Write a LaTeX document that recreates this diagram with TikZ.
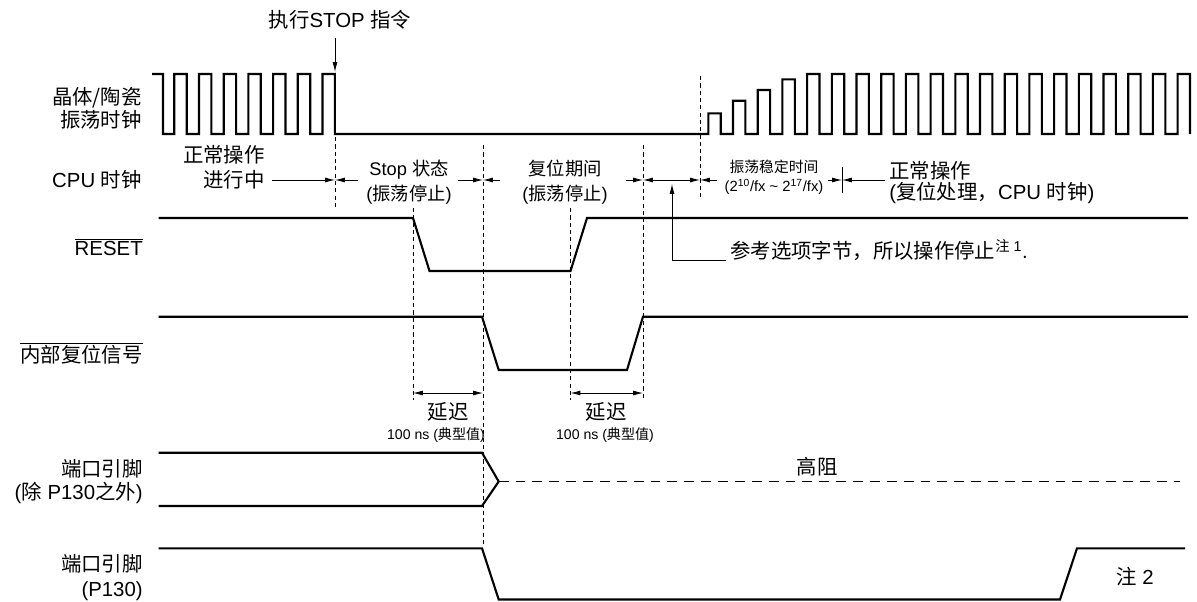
\documentclass[tikz,border=0pt]{standalone}
\usepackage{fontspec}
\setmainfont{Liberation Sans}
\newfontfamily\zh{Noto Sans CJK SC}
\usetikzlibrary{arrows.meta}

\begin{document}
\begin{tikzpicture}[
x=0.025cm, y=-0.025cm,
every node/.style={
inner sep=0pt,
font=\fontsize{14.5}{16.3}\selectfont
},
lbl/.style={anchor=east, align=right},
mid/.style={font=\fontsize{13}{17.7}\selectfont, align=center},
tiny/.style={font=\fontsize{10.5}{13.5}\selectfont, align=center},
sig/.style={line width=1.5pt},
guide/.style={line width=0.6pt, dash pattern=on 3pt off 2.2pt},
dim/.style={line width=0.6pt, >={Latex[length=7pt,width=3.5pt]}},
hiz/.style={line width=1.4pt, dash pattern=on 7pt off 5pt}
]

\useasboundingbox (0,0) rectangle (1197,601);

% signal names
\node[lbl] (clk) at (142,108.5)
{{\zh 晶体/陶瓷}\\{\zh 振荡时钟}};

\node[lbl] (cpu) at (142,180)
{CPU {\zh 时钟}};

\node[lbl] (rst) at (143,247)
{$\overline{\mbox{RESET}}$};

\node[lbl] (irst) at (143,353)
{$\overline{\mbox{\zh 内部复位信号}}$};

\node[lbl] (port) at (143,481.5)
{{\zh 端口引脚}\\({\zh 除} P130{\zh 之外})};

\node[lbl, font=\fontsize{14.5}{17.7}\selectfont] (p130) at (143,577.5)
{{\zh 端口引脚}\\(P130)};

% phases
\node (stop) at (340,20)
{{\zh 执行}STOP {\zh 指令}};

\node[lbl, font=\fontsize{14.5}{17.7}\selectfont] (run) at (265,167.5)
{{\zh 正常操作}\\{\zh 进行中}};

\node[mid] (halt) at (409,182.5)
{Stop {\zh 状态}\\({\zh 振荡停止})};

\node[mid] (rper) at (565,182.5)
{{\zh 复位期间}\\({\zh 振荡停止})};

\node[tiny] (osc) at (774,177.5)
{{\zh 振荡稳定时间}\\(2\textsuperscript{10}/fx \textasciitilde{} 2\textsuperscript{17}/fx)};

\node[anchor=west, align=left, font=\fontsize{14.5}{14.9}\selectfont] (norm) at (889,182.5)
{{\zh 正常操作}\\({\zh 复位处理，}CPU {\zh 时钟})};

\node[anchor=west] (note1) at (730,250)
{{\zh 参考选项字节，所以操作停止}\textsuperscript{{\zh 注} 1}.};

\node (dly1) at (448,412) {\zh 延迟};
\node (dly2) at (606,412) {\zh 延迟};
\node[font=\fontsize{10}{12}\selectfont] (typ1) at (436,435) {100 ns ({\zh 典型值})};
\node[font=\fontsize{10}{12}\selectfont] (typ2) at (605,435) {100 ns ({\zh 典型值})};

\node (hz) at (817,467) {\zh 高阻};
\node (n2) at (1135,577) {{\zh 注} 2};

\coordinate (tS) at (335,72);
\coordinate (nk) at (672,260);

% oscillator
\draw[sig] (152,74) -- (163,74) -- (163,134)
\foreach \i in {0,...,6} { -- (174.3+24.7*\i,134) -- ++(0,-60) -- ++(12.4,0) -- ++(0,60) }
\foreach \i/\h in {0/113.3,1/100.7,2/90,3/79.3} { -- (708.3+24.7*\i,134) -- (708.3+24.7*\i,\h) -- ++(12.4,0) -- ++(0,134-\h) }
\foreach \i in {0,...,15} { -- (807.1+24.7*\i,134) -- ++(0,-60) -- ++(12.4,0) -- ++(0,60) };

% reset lines
\draw[sig] (158.5,218) -- (413,218) -- (429.5,271) -- (570.5,271) -- (587,218) -- (1188,218);
\draw[sig] (158.5,316.7) -- (482,316.7) -- (498.7,370) -- (627,370) -- (643,316.7) -- (1188,316.7);

% ports
\draw[sig] (158.5,452.7) -- (482,452.7) -- (498.7,481.5);
\draw[sig] (158.5,506) -- (482,506) -- (498.7,481.5);
\draw[hiz] (498.7,481.5) -- (1180,481.5);
\draw[sig] (158.5,548.3) -- (482,548.3) -- (498.7,599.5) -- (1060,599.5) -- (1077,548.3) -- (1185,548.3);

% time marks
\draw[guide] (335,137) -- (335,208);
\draw[guide] (413,208) -- (413,400);
\draw[guide] (483,145) -- (483,547);
\draw[guide] (570.5,208) -- (570.5,400);
\draw[guide] (643,145) -- (643,400);
\draw[guide] (700,76) -- (700,200);

\draw[dim,->, shorten <=6pt] (stop.south -| tS) -- (tS);

\foreach \a/\b in {272/335, 358/335, 458/483, 500/483, 626/643, 717/700, 828/842, 885/842}
\draw[dim,->] (\a,180) -- (\b,180);
\draw[dim,<->] (643,180) -- (700,180);
\draw[dim] (842,167) -- (842,193);

\draw[dim,->, shorten <=3pt] (note1.west |- nk) -- (nk) -- (672,184);

\draw[dim,<->] (413,393) -- (483,393);
\draw[dim,<->] (570.5,393) -- (643,393);

\end{tikzpicture}
\end{document}
